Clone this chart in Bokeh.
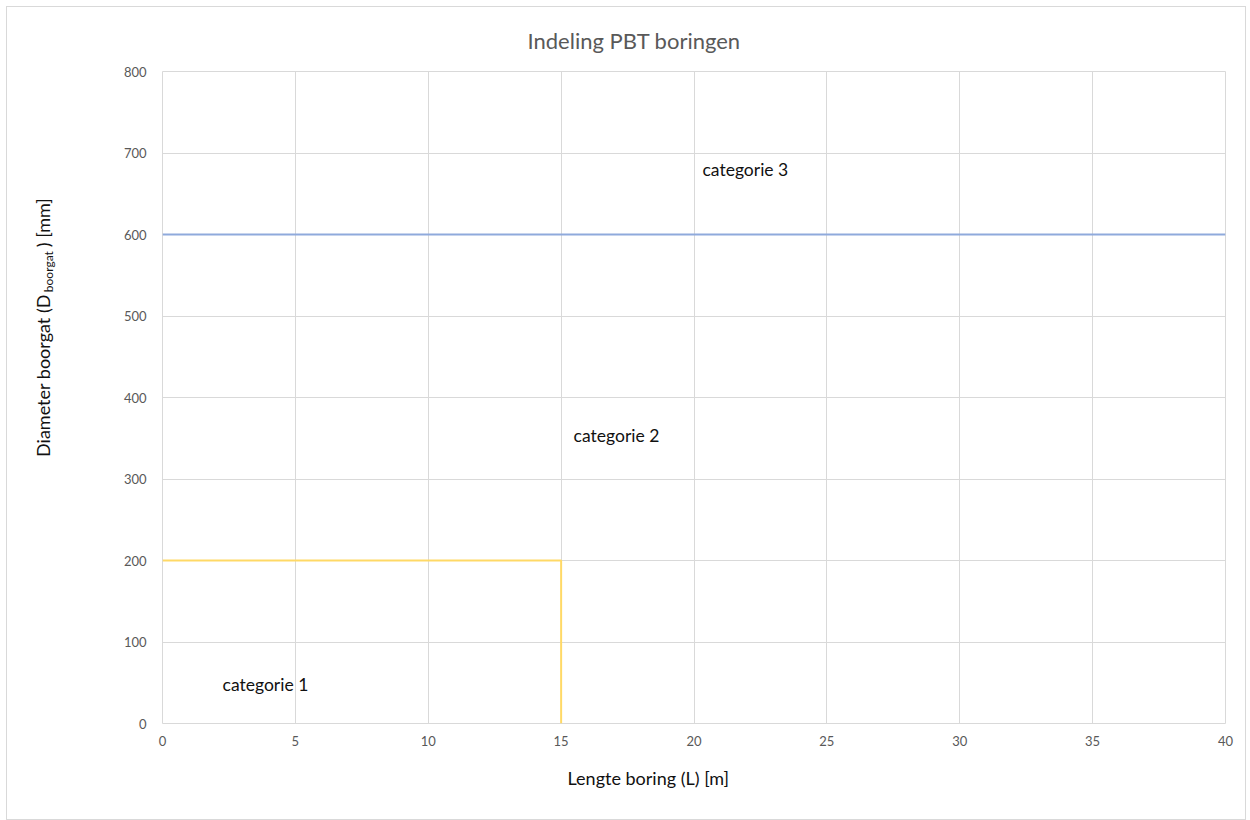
from bokeh.plotting import figure
from bokeh.models import Label, Range1d, FixedTicker, Title
from bokeh.layouts import row
from bokeh.embed import file_html
from bokeh.resources import INLINE
import math

# ---- data ----
title = "Indeling PBT boringen"
x_label = "Lengte boring (L) [m]"
y_label_parts = ["Diameter boorgat  (D", "boorgat", ") [mm]"]
x_ticks = [0, 5, 10, 15, 20, 25, 30, 35, 40]
y_ticks = [0, 100, 200, 300, 400, 500, 600, 700, 800]

cat1_x = [0, 15, 15]
cat1_y = [200, 200, 0]
cat3_x = [0, 40]
cat3_y = [600, 600]

cat_names = ["categorie 1", "categorie 2", "categorie 3"]
cat_x = [2.26, 15.47, 20.32]
cat_y = [48, 353, 680]

FONT = "Lato"
GRID = "#d9d9d9"
TICK = "#595959"
TXT = "#111111"

FRAME_W, FRAME_H = 1063, 652
FRAME_TOP = 70          # page y of the top of the plotting frame
LEFT_W = 60

p = figure(frame_width=FRAME_W, frame_height=FRAME_H,
           x_range=Range1d(0, 40), y_range=Range1d(0, 800),
           output_backend="svg", toolbar_location=None,
           min_border_left=95, min_border_right=20,
           min_border_top=63, min_border_bottom=96)

p.title.text = title
p.title.align = "left"
p.title.offset = 365
p.title.standoff = 35
p.title.text_font = FONT
p.title.text_font_size = "22px"
p.title.text_font_style = "normal"
p.title.text_color = TICK

p.outline_line_color = GRID
p.outline_line_width = 1
p.xgrid.grid_line_color = GRID
p.ygrid.grid_line_color = GRID
p.xaxis.ticker = FixedTicker(ticks=x_ticks)
p.yaxis.ticker = FixedTicker(ticks=y_ticks)
for ax in (p.xaxis[0], p.yaxis[0]):
    ax.axis_line_color = None
    ax.major_tick_line_color = None
    ax.minor_tick_line_color = None
    ax.major_label_text_font = FONT
    ax.major_label_text_font_size = "13px"
    ax.major_label_text_color = TICK
p.xaxis.major_label_standoff = 6
p.yaxis.major_label_standoff = 10

p.add_layout(Title(text=x_label, align="left", offset=405, standoff=32,
                   text_font=FONT, text_font_size="18px", text_font_style="normal",
                   text_color=TXT), "below")

p.line(cat1_x, cat1_y, line_color="#FFD966", line_width=2)
p.line(cat3_x, cat3_y, line_color="#8FAADC", line_width=2)

for n, x, y in zip(cat_names, cat_x, cat_y):
    p.add_layout(Label(x=x, y=y, text=n, text_font=FONT, text_font_size="17.5px",
                       text_color=TXT, text_baseline="middle", text_align="left"))

# left strip holding the rotated y-axis title (with subscript).
# In a row, its frame is aligned with the main frame, so its y coordinate
# is measured upward in pixels from the bottom of the main frame.
lf = figure(title=None, width=LEFT_W, height=FRAME_H + 63 + 96,
            x_range=Range1d(7, 7 + LEFT_W), y_range=Range1d(0, FRAME_H),
            output_backend="svg", toolbar_location=None,
            x_axis_location=None, y_axis_location=None,
            min_border=0, outline_line_color=None)
lf.grid.visible = False

def up(page_y):
    return FRAME_TOP + FRAME_H - page_y

lf.text(x=[42], y=[up(456)], text=[y_label_parts[0]], angle=math.pi / 2,
        text_font={"value": FONT}, text_font_size="18px", text_color=TXT,
        text_baseline="middle", text_align="left")
lf.text(x=[48], y=[up(291)], text=[y_label_parts[1]], angle=math.pi / 2,
        text_font={"value": FONT}, text_font_size="12px", text_color=TXT,
        text_baseline="middle", text_align="left")
lf.text(x=[42], y=[up(246)], text=[y_label_parts[2]], angle=math.pi / 2,
        text_font={"value": FONT}, text_font_size="18px", text_color=TXT,
        text_baseline="middle", text_align="left")

layout = row(lf, p, spacing=0)
layout.margin = (7, 0, 0, 7)
layout.styles = {"outline": "1px solid #d9d9d9"}

open("out.html", "w").write(file_html(layout, INLINE))
